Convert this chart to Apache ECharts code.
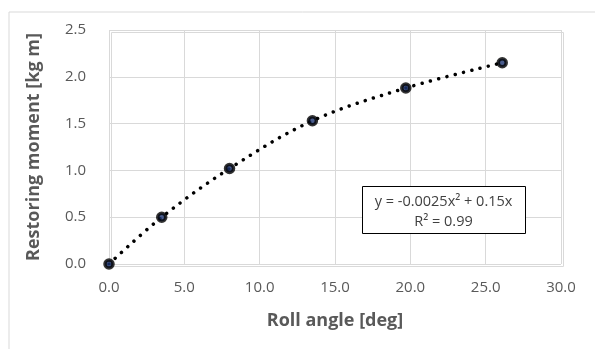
<!DOCTYPE html>
<html>
<head>
<meta charset="utf-8">
<script src="https://cdn.jsdelivr.net/npm/echarts@6/dist/echarts.min.js"></script>
<style>
  html, body { margin: 0; padding: 0; background: #fff; }
  #chart { width: 595px; height: 349px; }
</style>
</head>
<body>
<div id="chart"></div>
<script>
// measured roll angle [deg] vs restoring moment [kg m]
const rollAngle = [0.0, 3.5, 8.0, 13.5, 19.7, 26.1]
const moment = [0.0, 0.50, 1.02, 1.53, 1.88, 2.15]
const trendText = ['y = -0.0025x² + 0.15x', 'R² = 0.99']

const points = rollAngle.map((x, i) => [x, moment[i]])

const chart = echarts.init(document.getElementById('chart'))

const labelFont = "'Open Sans', 'Liberation Sans', sans-serif"
const gridColor = '#d9d9d9'

chart.setOption({
  animation: false,
  grid: { left: 109, right: 34, top: 30, bottom: 85 },
  xAxis: {
    type: 'value',
    min: 0, max: 30, interval: 5,
    name: 'Roll angle [deg]',
    nameLocation: 'middle',
    nameGap: 48,
    nameTextStyle: { color: '#595959', fontSize: 18, fontWeight: 'bold', fontFamily: labelFont },
    axisLine: { show: false },
    axisTick: { show: false },
    axisLabel: {
      color: '#595959', fontSize: 15, fontFamily: labelFont, margin: 16,
      formatter: v => v.toFixed(1)
    },
    splitLine: { lineStyle: { color: gridColor, width: 1 } }
  },
  yAxis: {
    type: 'value',
    min: 0, max: 2.5, interval: 0.5,
    name: 'Restoring moment [kg m]',
    nameLocation: 'middle',
    nameGap: 66,
    nameTextStyle: { color: '#595959', fontSize: 18, fontWeight: 'bold', fontFamily: labelFont },
    axisLine: { show: false },
    axisTick: { show: false },
    axisLabel: {
      color: '#595959', fontSize: 15, fontFamily: labelFont, margin: 23,
      formatter: v => v.toFixed(1)
    },
    splitLine: { lineStyle: { color: gridColor, width: 1 } }
  },
  graphic: [
    {
      type: 'rect', left: 6.5, top: 9.5, silent: true, z: 0,
      shape: { width: 600, height: 360 },
      style: { fill: 'none', stroke: '#d9d9d9', lineWidth: 1 }
    },
    {
      type: 'rect', left: 109, top: 30, silent: true, z: 0,
      shape: { width: 452, height: 234 },
      style: { fill: 'none', stroke: gridColor, lineWidth: 1 }
    },
    {
      type: 'rect', left: 362, top: 186, z: 100,
      shape: { width: 163, height: 47 },
      style: { fill: '#fff', stroke: '#000', lineWidth: 1 }
    },
    {
      type: 'text', x: 443.5, y: 202, z: 101,
      style: { text: trendText[0], align: 'center', verticalAlign: 'middle', fill: '#404040', font: "14.5px 'Open Sans', sans-serif" }
    },
    {
      type: 'text', x: 443.5, y: 222, z: 101,
      style: { text: trendText[1], align: 'center', verticalAlign: 'middle', fill: '#404040', font: "14.5px 'Open Sans', sans-serif" }
    }
  ],
  series: [
    {
      name: 'trend',
      type: 'line',
      data: points,
      smooth: 0.35,
      symbol: 'none',
      lineStyle: { color: '#000', width: 3.5, type: [0.01, 8.5], cap: 'round' },
      z: 2
    },
    {
      name: 'moment',
      type: 'scatter',
      data: points,
      symbol: 'circle',
      symbolSize: 8,
      itemStyle: { color: '#1c3370', borderColor: '#000', borderWidth: 3.5 },
      z: 3
    }
  ]
})
</script>
</body>
</html>
